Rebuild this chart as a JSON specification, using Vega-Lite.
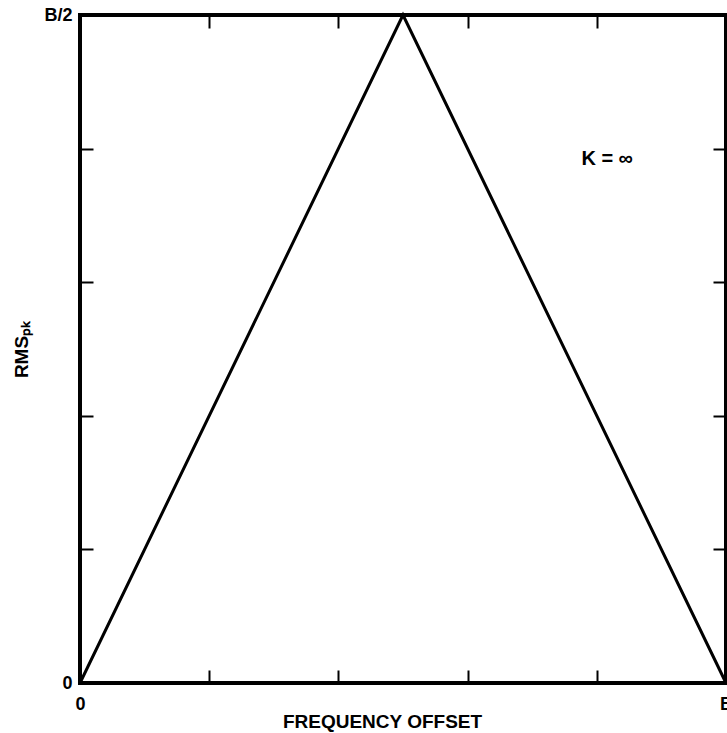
{
  "$schema": "https://vega.github.io/schema/vega-lite/v6.json",
  "width": 646,
  "height": 668,
  "autosize": "none",
  "padding": {"left": 80, "top": 15, "right": 1, "bottom": 50},
  "background": "white",
  "config": {
    "view": {"stroke": "black", "strokeWidth": 4},
    "font": "Liberation Sans",
    "axis": {
      "grid": false,
      "domain": false,
      "tickColor": "black",
      "tickWidth": 2,
      "tickSize": -13,
      "labelFlush": false,
      "labelColor": "black",
      "labelFont": "Liberation Sans",
      "labelFontWeight": "bold",
      "labelFontSize": 18,
      "titleColor": "black",
      "titleFont": "Liberation Sans",
      "titleFontWeight": "bold",
      "titleFontSize": 19
    }
  },
  "data": {
    "values": [
      {"f": 0, "rms": 0},
      {"f": 0.5, "rms": 1},
      {"f": 1, "rms": 0}
    ]
  },
  "layer": [
    {
      "mark": {"type": "line", "color": "black", "strokeWidth": 3},
      "encoding": {
        "x": {
          "field": "f",
          "type": "quantitative",
          "scale": {"domain": [0, 1], "nice": false},
          "axis": {
            "orient": "bottom",
            "values": [0, 0.2, 0.4, 0.6, 0.8, 1],
            "labelExpr": "datum.value == 0 ? '0' : datum.value == 1 ? 'B' : ''",
            "labelPadding": 25,
            "title": "FREQUENCY OFFSET",
            "titlePadding": -1,
            "titleX": 302
          }
        },
        "y": {
          "field": "rms",
          "type": "quantitative",
          "scale": {"domain": [0, 1], "nice": false},
          "axis": {
            "orient": "left",
            "values": [0, 0.2, 0.4, 0.6, 0.8, 1],
            "labelExpr": "datum.value == 0 ? '0' : datum.value == 1 ? 'B/2' : ''",
            "labelPadding": 21,
            "title": "RMSₚₖ",
            "titlePadding": 12
          }
        }
      }
    },
    {
      "mark": {"type": "line", "opacity": 0},
      "encoding": {
        "x": {
          "field": "f",
          "type": "quantitative",
          "scale": {"domain": [0, 1], "nice": false},
          "axis": {"orient": "top", "values": [0, 0.2, 0.4, 0.6, 0.8, 1], "labels": false, "title": null}
        },
        "y": {
          "field": "rms",
          "type": "quantitative",
          "scale": {"domain": [0, 1], "nice": false},
          "axis": {"orient": "right", "values": [0, 0.2, 0.4, 0.6, 0.8, 1], "labels": false, "title": null}
        }
      }
    },
    {
      "data": {"values": [{"f": 0.816, "rms": 0.785, "t": "K = ∞"}]},
      "mark": {"type": "text", "font": "Liberation Sans", "fontWeight": "bold", "fontSize": 20, "color": "black"},
      "encoding": {
        "x": {"field": "f", "type": "quantitative", "scale": {"domain": [0, 1], "nice": false}, "axis": null},
        "y": {"field": "rms", "type": "quantitative", "scale": {"domain": [0, 1], "nice": false}, "axis": null},
        "text": {"field": "t"}
      }
    }
  ],
  "resolve": {"axis": {"x": "independent", "y": "independent"}}
}
